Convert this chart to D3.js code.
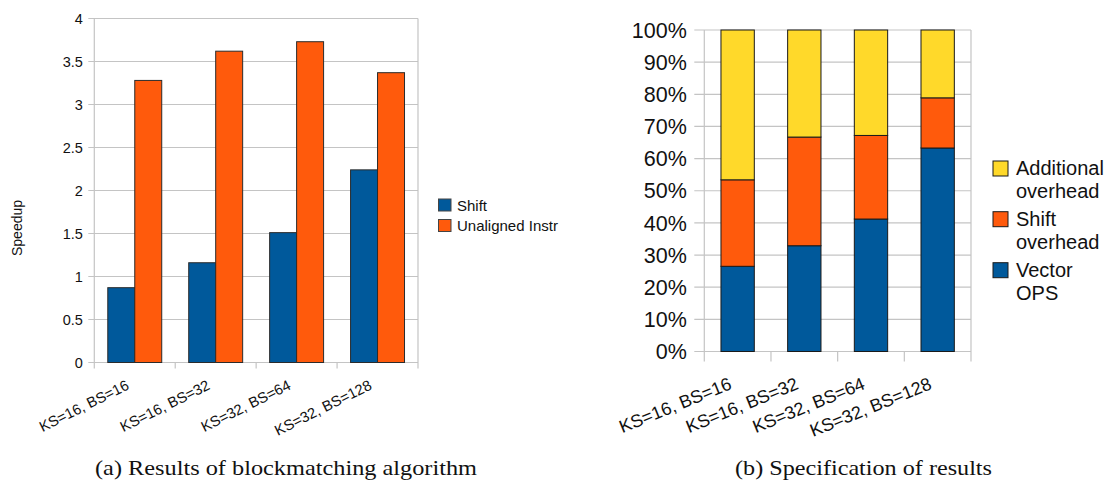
<!DOCTYPE html>
<html>
<head>
<meta charset="utf-8">
<script src="https://cdn.jsdelivr.net/npm/d3@7/dist/d3.min.js"></script>
<style>
  html, body { margin: 0; padding: 0; background: #fff; }
  svg { display: block; }
  text { font-family: "Liberation Sans", Arial, sans-serif; fill: #111; }
  .caption { font-family: "Liberation Serif", "DejaVu Serif", serif; }
</style>
</head>
<body>
<script>
// Block sizes tested
const categories = ["KS=16, BS=16", "KS=16, BS=32", "KS=32, BS=64", "KS=32, BS=128"];

// (a) speedup per variant
const shiftSpeedup = [0.87, 1.16, 1.51, 2.24];
const unalignedSpeedup = [3.28, 3.62, 3.73, 3.37];
const speedupTicks = [0, 0.5, 1, 1.5, 2, 2.5, 3, 3.5, 4];

// (b) share of run time, percent
const vectorOps = [26.5, 32.9, 41.2, 63.3];
const shiftOverhead = [26.9, 33.8, 26.0, 15.6];
const additionalOverhead = [46.6, 33.3, 32.8, 21.1];
const percentTicks = [0, 10, 20, 30, 40, 50, 60, 70, 80, 90, 100];

const BLUE = "#00599b", ORANGE = "#ff5a0c", YELLOW = "#ffd92a";
const GRID = "#c4c4c4", EDGE = "#2b2b2b";

const W = 1104, H = 480;
const svg = d3.select("body").append("svg").attr("width", W).attr("height", H);
svg.append("rect").attr("width", W).attr("height", H).attr("fill", "#fff");

// Rotated category label whose top-right corner sits under the category centre
function catLabels(g, xs, yTop, angle, size) {
  const a = angle * Math.PI / 180;
  const h = 0.72 * size;
  categories.forEach((c, i) => {
    const ax = xs[i] - h * Math.sin(a);
    const ay = yTop + h * Math.cos(a);
    g.append("text")
      .attr("transform", `translate(${ax},${ay}) rotate(${-angle})`)
      .attr("text-anchor", "end")
      .style("font-size", size + "px")
      .text(c);
  });
}

// ---------- (a) Results of blockmatching algorithm ----------
{
  const left = 94.3, right = 418, top = 18.5, bottom = 362.5;
  const g = svg.append("g");
  const y = d3.scaleLinear().domain([0, 4]).range([bottom, top]);
  const x = d3.scaleBand().domain(categories).range([left, right]).padding(0);
  const series = ["shift", "unaligned"];
  const xs = d3.scaleBand().domain(series).range([0, x.bandwidth()])
    .paddingInner(0).paddingOuter(0.5);

  // grid
  g.selectAll("line.grid").data(speedupTicks).join("line")
    .attr("x1", left - 6).attr("x2", right)
    .attr("y1", d => y(d)).attr("y2", d => y(d))
    .attr("stroke", GRID).attr("stroke-width", 1.2);
  g.append("line").attr("x1", left).attr("x2", left).attr("y1", top).attr("y2", bottom + 6)
    .attr("stroke", GRID).attr("stroke-width", 1.2);
  g.append("line").attr("x1", right).attr("x2", right).attr("y1", top).attr("y2", bottom + 6)
    .attr("stroke", GRID).attr("stroke-width", 1.2);
  categories.slice(1).forEach(c => {
    g.append("line").attr("x1", x(c)).attr("x2", x(c)).attr("y1", bottom).attr("y2", bottom + 6)
      .attr("stroke", GRID).attr("stroke-width", 1.2);
  });

  // y tick labels
  g.selectAll("text.yt").data(speedupTicks).join("text")
    .attr("x", left - 11.5).attr("y", d => y(d)).attr("dy", "0.36em")
    .attr("text-anchor", "end").style("font-size", "14.5px")
    .text(d => String(d));

  // bars
  const data = categories.map((c, i) => ({ c, shift: shiftSpeedup[i], unaligned: unalignedSpeedup[i] }));
  const colors = { shift: BLUE, unaligned: ORANGE };
  series.forEach(s => {
    g.selectAll("rect." + s).data(data).join("rect")
      .attr("x", d => x(d.c) + xs(s))
      .attr("width", xs.bandwidth())
      .attr("y", d => y(d[s]))
      .attr("height", d => y(0) - y(d[s]))
      .attr("fill", colors[s]).attr("stroke", EDGE).attr("stroke-width", 1);
  });

  // axis title
  g.append("text").attr("transform", "translate(22,228) rotate(-90)")
    .attr("text-anchor", "middle").style("font-size", "14px").text("Speedup");

  catLabels(g, categories.map(c => x(c) + x.bandwidth() / 2), 379, 26.5, 14.8);

  // legend
  const legend = [["Shift", BLUE], ["Unaligned Instr", ORANGE]];
  legend.forEach(([t, col], i) => {
    g.append("rect").attr("x", 438.5).attr("y", 199 + i * 20.5).attr("width", 12.5).attr("height", 12)
      .attr("fill", col).attr("stroke", "#444").attr("stroke-width", 1);
    g.append("text").attr("x", 457).attr("y", 210.7 + i * 20.5).style("font-size", "15px").text(t);
  });

  svg.append("text").attr("class", "caption").attr("x", 95).attr("y", 475)
    .style("font-size", "22px").attr("textLength", 382).attr("lengthAdjust", "spacingAndGlyphs")
    .text("(a) Results of blockmatching algorithm");
}

// ---------- (b) Specification of results ----------
{
  const left = 704.3, right = 971, top = 30, bottom = 351.5;
  const g = svg.append("g");
  const y = d3.scaleLinear().domain([0, 100]).range([bottom, top]);
  const x = d3.scaleBand().domain(categories).range([left, right])
    .paddingInner(0.5).paddingOuter(0.25);
  const step = x.step();

  g.selectAll("line.grid").data(percentTicks).join("line")
    .attr("x1", left - 10).attr("x2", right)
    .attr("y1", d => y(d)).attr("y2", d => y(d))
    .attr("stroke", GRID).attr("stroke-width", 1.2);
  g.append("line").attr("x1", left).attr("x2", left).attr("y1", top).attr("y2", bottom + 10)
    .attr("stroke", GRID).attr("stroke-width", 1.2);
  g.append("line").attr("x1", right).attr("x2", right).attr("y1", top).attr("y2", bottom + 10)
    .attr("stroke", GRID).attr("stroke-width", 1.2);
  d3.range(1, categories.length).forEach(i => {
    g.append("line").attr("x1", left + i * step).attr("x2", left + i * step)
      .attr("y1", bottom).attr("y2", bottom + 10)
      .attr("stroke", GRID).attr("stroke-width", 1.2);
  });

  g.selectAll("text.yt").data(percentTicks).join("text")
    .attr("x", left - 17.5).attr("y", d => y(d)).attr("dy", "0.36em")
    .attr("text-anchor", "end").style("font-size", "21.5px")
    .text(d => d + "%");

  const keys = ["vector", "shift", "additional"];
  const rows = categories.map((c, i) => ({
    c, vector: vectorOps[i], shift: shiftOverhead[i], additional: additionalOverhead[i]
  }));
  const stacked = d3.stack().keys(keys)(rows);
  const colors = { vector: BLUE, shift: ORANGE, additional: YELLOW };
  stacked.forEach(layer => {
    g.selectAll("rect." + layer.key).data(layer).join("rect")
      .attr("x", d => x(d.data.c))
      .attr("width", x.bandwidth())
      .attr("y", d => y(d[1]))
      .attr("height", d => y(d[0]) - y(d[1]))
      .attr("fill", colors[layer.key]).attr("stroke", "#1a1a1a").attr("stroke-width", 1);
  });

  catLabels(g, categories.map(c => x(c) + x.bandwidth() / 2), 376.5, 22, 18);

  const legend = [
    [["Additional", "overhead"], YELLOW, 161],
    [["Shift", "overhead"], ORANGE, 211.7],
    [["Vector", "OPS"], BLUE, 262.7]
  ];
  legend.forEach(([lines, col, ty]) => {
    g.append("rect").attr("x", 993).attr("y", ty).attr("width", 15).attr("height", 15)
      .attr("fill", col).attr("stroke", "#1a1a1a").attr("stroke-width", 1);
    lines.forEach((t, j) => {
      g.append("text").attr("x", 1016).attr("y", ty + 14 + j * 22.8)
        .style("font-size", "20px").text(t);
    });
  });

  svg.append("text").attr("class", "caption").attr("x", 735).attr("y", 475)
    .style("font-size", "22px").attr("textLength", 257).attr("lengthAdjust", "spacingAndGlyphs")
    .text("(b) Specification of results");
}
</script>
</body>
</html>
